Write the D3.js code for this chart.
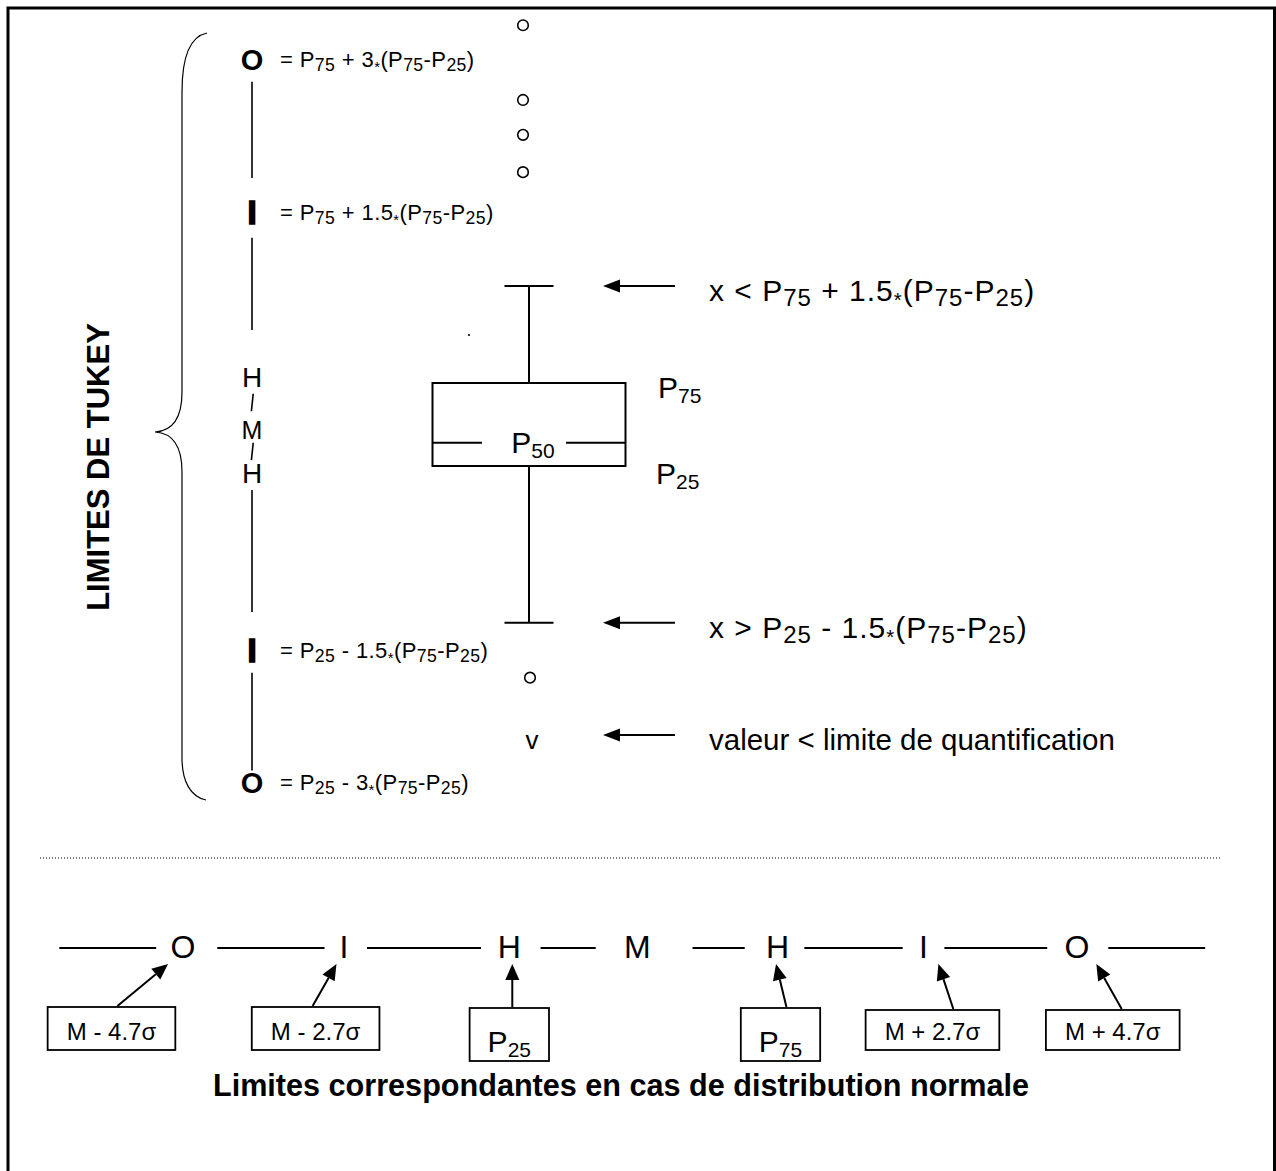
<!DOCTYPE html>
<html>
<head>
<meta charset="utf-8">
<script src="https://cdn.jsdelivr.net/npm/d3@7"></script>
<style>
  html, body { margin: 0; padding: 0; background: #fff; }
  svg { display: block; font-family: Arial, "Liberation Sans", Helvetica, sans-serif; }
  text { white-space: pre; fill: #000; }
</style>
</head>
<body>
<svg id="chart" width="1276" height="1171"></svg>
<script>
// ---- Box plot, in units of the interquartile range (P25 = 0, P75 = 1) ----
const quartileLabels = ["P_{25}", "P_{50}", "P_{75}"];
const quartileValues = [0, 0.28, 1];
const whiskerValues = [-1.89, 2.17];
const upperOutliers = [3.54, 3.99, 4.41, 5.31];
const lowerOutliers = [-2.55];
const censoredValues = [-3.30];

// ---- Tukey fences column (same units) ----
const fenceLetters = ["O", "I", "H", "M", "H", "I", "O"];
const fenceBold = [true, true, false, false, false, true, true];
const fenceLevels = [4.90, 3.06, 1.07, 0.43, -0.08, -2.22, -3.81];
const fenceFormulas = ["= P_{75} + 3*(P_{75}-P_{25})", "= P_{75} + 1.5*(P_{75}-P_{25})", "", "", "",
                       "= P_{25} - 1.5*(P_{75}-P_{25})", "= P_{25} - 3*(P_{75}-P_{25})"];
const fenceRules = [[4.63, 3.47], [2.75, 1.64], [-0.29, -1.76], [-2.49, -3.67]];
const fenceTicks = [[0.87, 0.66], [0.28, 0.07]];

// ---- Annotations to the right of the box ----
const noteLevels = [2.17, -1.89, -3.24];
const noteTexts = ["x < P_{75} + 1.5*(P_{75}-P_{25})", "x > P_{25} - 1.5*(P_{75}-P_{25})",
                   "valeur < limite de quantification"];

// ---- Normal-distribution row (positions in slot units) ----
const rowLetters = ["O", "I", "H", "M", "H", "I", "O"];
const rowSlots = [0, 1.08, 2.19, 3.05, 3.99, 4.97, 6.0];
const rowRules = [[-0.83, -0.18], [0.23, 0.95], [1.235, 2.0], [2.40, 2.77], [3.42, 3.77],
                  [4.17, 4.83], [5.11, 5.80], [6.21, 6.86]];
const rowBoxLabels = ["M - 4.7σ", "M - 2.7σ", "P_{25}", "P_{75}", "M + 2.7σ", "M + 4.7σ"];
const rowBoxSlots = [-0.48, 0.89, 2.19, 4.01, 5.03, 6.24];
const rowArrowFrom = [-0.44, 0.87, 2.21, 4.05, 5.17, 6.30];
const rowArrowTo = [-0.10, 1.03, 2.21, 3.98, 5.07, 6.13];

const titleTukey = "LIMITES DE TUKEY";
const titleNormal = "Limites correspondantes en cas de distribution normale";

// ------------------------------------------------------------------
const svg = d3.select("#chart");

// Text with "_{..}" subscripts and a small lowered "*"
function richText(parent, str, fs, opt = {}) {
  const sub = opt.sub || 0.7;
  const t = parent.append("text").attr("font-size", fs);
  if (opt.weight) t.attr("font-weight", opt.weight);
  if (opt.spacing) t.attr("letter-spacing", opt.spacing);
  const parts = str.split(/(_\{[^}]*\}|\*)/).filter(s => s.length);
  let cur = 0;
  parts.forEach(p => {
    let size = fs, off = 0, txt = p;
    if (p.startsWith("_{")) { txt = p.slice(2, -1); size = fs * sub; off = fs * 0.17; }
    else if (p === "*") { size = fs * 0.68; off = fs * 0.22; }
    t.append("tspan").attr("font-size", size).attr("dy", off - cur).text(txt);
    cur = off;
  });
  return t;
}

function arrow(g, x1, y1, x2, y2, headLen, headHalf, sw) {
  const a = Math.atan2(y2 - y1, x2 - x1);
  const bx = x2 - headLen * Math.cos(a), by = y2 - headLen * Math.sin(a);
  g.append("line").attr("x1", x1).attr("y1", y1).attr("x2", bx).attr("y2", by)
    .attr("stroke", "#000").attr("stroke-width", sw);
  const px = -Math.sin(a) * headHalf, py = Math.cos(a) * headHalf;
  g.append("path")
    .attr("d", `M${x2},${y2}L${bx + px},${by + py}L${bx - px},${by - py}Z`)
    .attr("fill", "#000");
}

// Outer frame
svg.append("rect")
  .attr("x", 8).attr("y", 8).attr("width", 1266.5).attr("height", 1200)
  .attr("fill", "none").attr("stroke", "#000").attr("stroke-width", 3);

// Vertical value scale shared by the box plot and the fences column
const y = d3.scaleLinear().domain([0, 1]).range([466, 383]);
const boxX = 529, boxHalf = 96.5, capHalf = 24.5;

// ---- Box plot ----
const bp = svg.append("g").attr("stroke", "#000").attr("fill", "none");
const [q1, med, q3] = quartileValues;
bp.append("rect")
  .attr("x", boxX - boxHalf).attr("y", y(q3))
  .attr("width", boxHalf * 2).attr("height", y(q1) - y(q3))
  .attr("stroke-width", 2);
// median with a gap for its label
bp.append("line").attr("x1", boxX - boxHalf).attr("x2", boxX - 47)
  .attr("y1", y(med)).attr("y2", y(med)).attr("stroke-width", 2);
bp.append("line").attr("x1", boxX + 37).attr("x2", boxX + boxHalf)
  .attr("y1", y(med)).attr("y2", y(med)).attr("stroke-width", 2);
// whiskers
bp.selectAll(".whisker").data(whiskerValues).join("line")
  .attr("x1", boxX).attr("x2", boxX)
  .attr("y1", d => y(d)).attr("y2", d => d > 0 ? y(q3) : y(q1))
  .attr("stroke-width", 2);
bp.selectAll(".cap").data(whiskerValues).join("line")
  .attr("x1", boxX - capHalf).attr("x2", boxX + capHalf)
  .attr("y1", d => y(d)).attr("y2", d => y(d))
  .attr("stroke-width", 2);
// outliers
bp.selectAll(".up").data(upperOutliers).join("circle")
  .attr("cx", boxX - 6).attr("cy", d => y(d)).attr("r", 5.3).attr("stroke-width", 1.6);
bp.selectAll(".low").data(lowerOutliers).join("circle")
  .attr("cx", boxX + 1).attr("cy", d => y(d)).attr("r", 5.3).attr("stroke-width", 1.6);
// stray dot
svg.append("circle").attr("cx", 469).attr("cy", 335).attr("r", 1.1).attr("fill", "#000");
// censored value marker
svg.selectAll(".cens").data(censoredValues).join("text")
  .attr("x", boxX + 3).attr("y", d => y(d) + 9)
  .attr("text-anchor", "middle").attr("font-size", 26).text("v");

// quartile labels
richText(svg, quartileLabels[1], 30).attr("x", boxX + 4).attr("y", y(med) + 10).attr("text-anchor", "middle");
richText(svg, quartileLabels[2], 30).attr("x", 658).attr("y", y(q3) + 15);
richText(svg, quartileLabels[0], 30).attr("x", 656).attr("y", y(q1) + 18);

// ---- Fences column ----
const colX = 252;
const fc = svg.append("g");
fenceLetters.forEach((L, i) => {
  const fs = fenceBold[i] ? (L === "O" ? 29 : 33) : (L === "H" ? 28 : 25);
  const t = fc.append("text")
    .attr("x", colX).attr("y", y(fenceLevels[i]) + fs * 0.358)
    .attr("text-anchor", "middle").attr("font-size", fs).text(L);
  if (fenceBold[i]) t.attr("font-weight", "bold");
  if (L === "I") t.attr("stroke", "#000").attr("stroke-width", 1.6);
  if (fenceFormulas[i]) {
    richText(fc, fenceFormulas[i], 22, { sub: 0.8, spacing: 0.4 })
      .attr("x", 280).attr("y", y(fenceLevels[i]) + 8);
  }
});
fc.selectAll(".rule").data(fenceRules).join("line")
  .attr("x1", colX).attr("x2", colX)
  .attr("y1", d => y(d[0])).attr("y2", d => y(d[1]))
  .attr("stroke", "#000").attr("stroke-width", 1.6);
fc.selectAll(".tick").data(fenceTicks).join("line")
  .attr("x1", colX + 1.2).attr("x2", colX - 0.6)
  .attr("y1", d => y(d[0])).attr("y2", d => y(d[1]))
  .attr("stroke", "#000").attr("stroke-width", 1.6);

// curly brace
svg.append("path")
  .attr("d", "M207,33 C192,36 182,52 182,92 L182,392 C182,418 172,431 155,432 " +
             "C172,433 182,446 182,472 L182,758 C182,782 191,797 206,800")
  .attr("fill", "none").attr("stroke", "#000").attr("stroke-width", 1.2);

// vertical title
svg.append("text")
  .attr("transform", `translate(109,${467}) rotate(-90)`)
  .attr("text-anchor", "middle").attr("font-size", 31).attr("font-weight", "bold")
  .text(titleTukey);

// ---- Right-hand annotations ----
const notes = svg.append("g");
noteLevels.forEach((v, i) => {
  arrow(notes, 675, y(v), 603, y(v), 17, 6.5, 2);
  const isFormula = noteTexts[i].includes("_{");
  richText(notes, noteTexts[i], isFormula ? 30 : 29.5,
           isFormula ? { sub: 0.8, spacing: 1.0 } : {})
    .attr("x", 709).attr("y", y(v) + 15);
});

// ---- Separator ----
svg.append("line").attr("x1", 40).attr("x2", 1222).attr("y1", 858).attr("y2", 858)
  .attr("stroke", "#000").attr("stroke-width", 1).attr("stroke-dasharray", "1 2");

// ---- Normal-distribution row ----
const xs = d3.scaleLinear().domain([0, 6]).range([183, 1077]);
const rowY = 948;
const row = svg.append("g");
row.selectAll(".rr").data(rowRules).join("line")
  .attr("x1", d => xs(d[0])).attr("x2", d => xs(d[1]))
  .attr("y1", rowY).attr("y2", rowY).attr("stroke", "#000").attr("stroke-width", 1.8);
row.selectAll(".rl").data(rowLetters).join("text")
  .attr("x", (d, i) => xs(rowSlots[i])).attr("y", 958)
  .attr("text-anchor", "middle").attr("font-size", 32).text(d => d);

rowBoxLabels.forEach((lab, i) => {
  const isP = lab.startsWith("P");
  const fs = isP ? 30 : 24;
  const cx = xs(rowBoxSlots[i]);
  const top = isP ? 1008 : (i < 2 ? 1007 : 1010);
  const h = isP ? 53 : (i < 2 ? 43 : 40);
  const g = row.append("g");
  const t = richText(g, lab, fs).attr("x", cx).attr("y", isP ? 1052 : top + h - 10)
    .attr("text-anchor", "middle");
  const w = t.node().getBBox().width;
  const pad = isP ? 18 : 19;
  g.insert("rect", "text")
    .attr("x", cx - w / 2 - pad).attr("y", top)
    .attr("width", w + pad * 2).attr("height", h)
    .attr("fill", "#fff").attr("stroke", "#000").attr("stroke-width", 1.8);
  arrow(row, xs(rowArrowFrom[i]), top - 1, xs(rowArrowTo[i]), 964, 16, 7, 2);
});

// bottom title
svg.append("text")
  .attr("x", 621).attr("y", 1096).attr("text-anchor", "middle")
  .attr("font-size", 30.6).attr("font-weight", "bold").text(titleNormal);
</script>
</body>
</html>
